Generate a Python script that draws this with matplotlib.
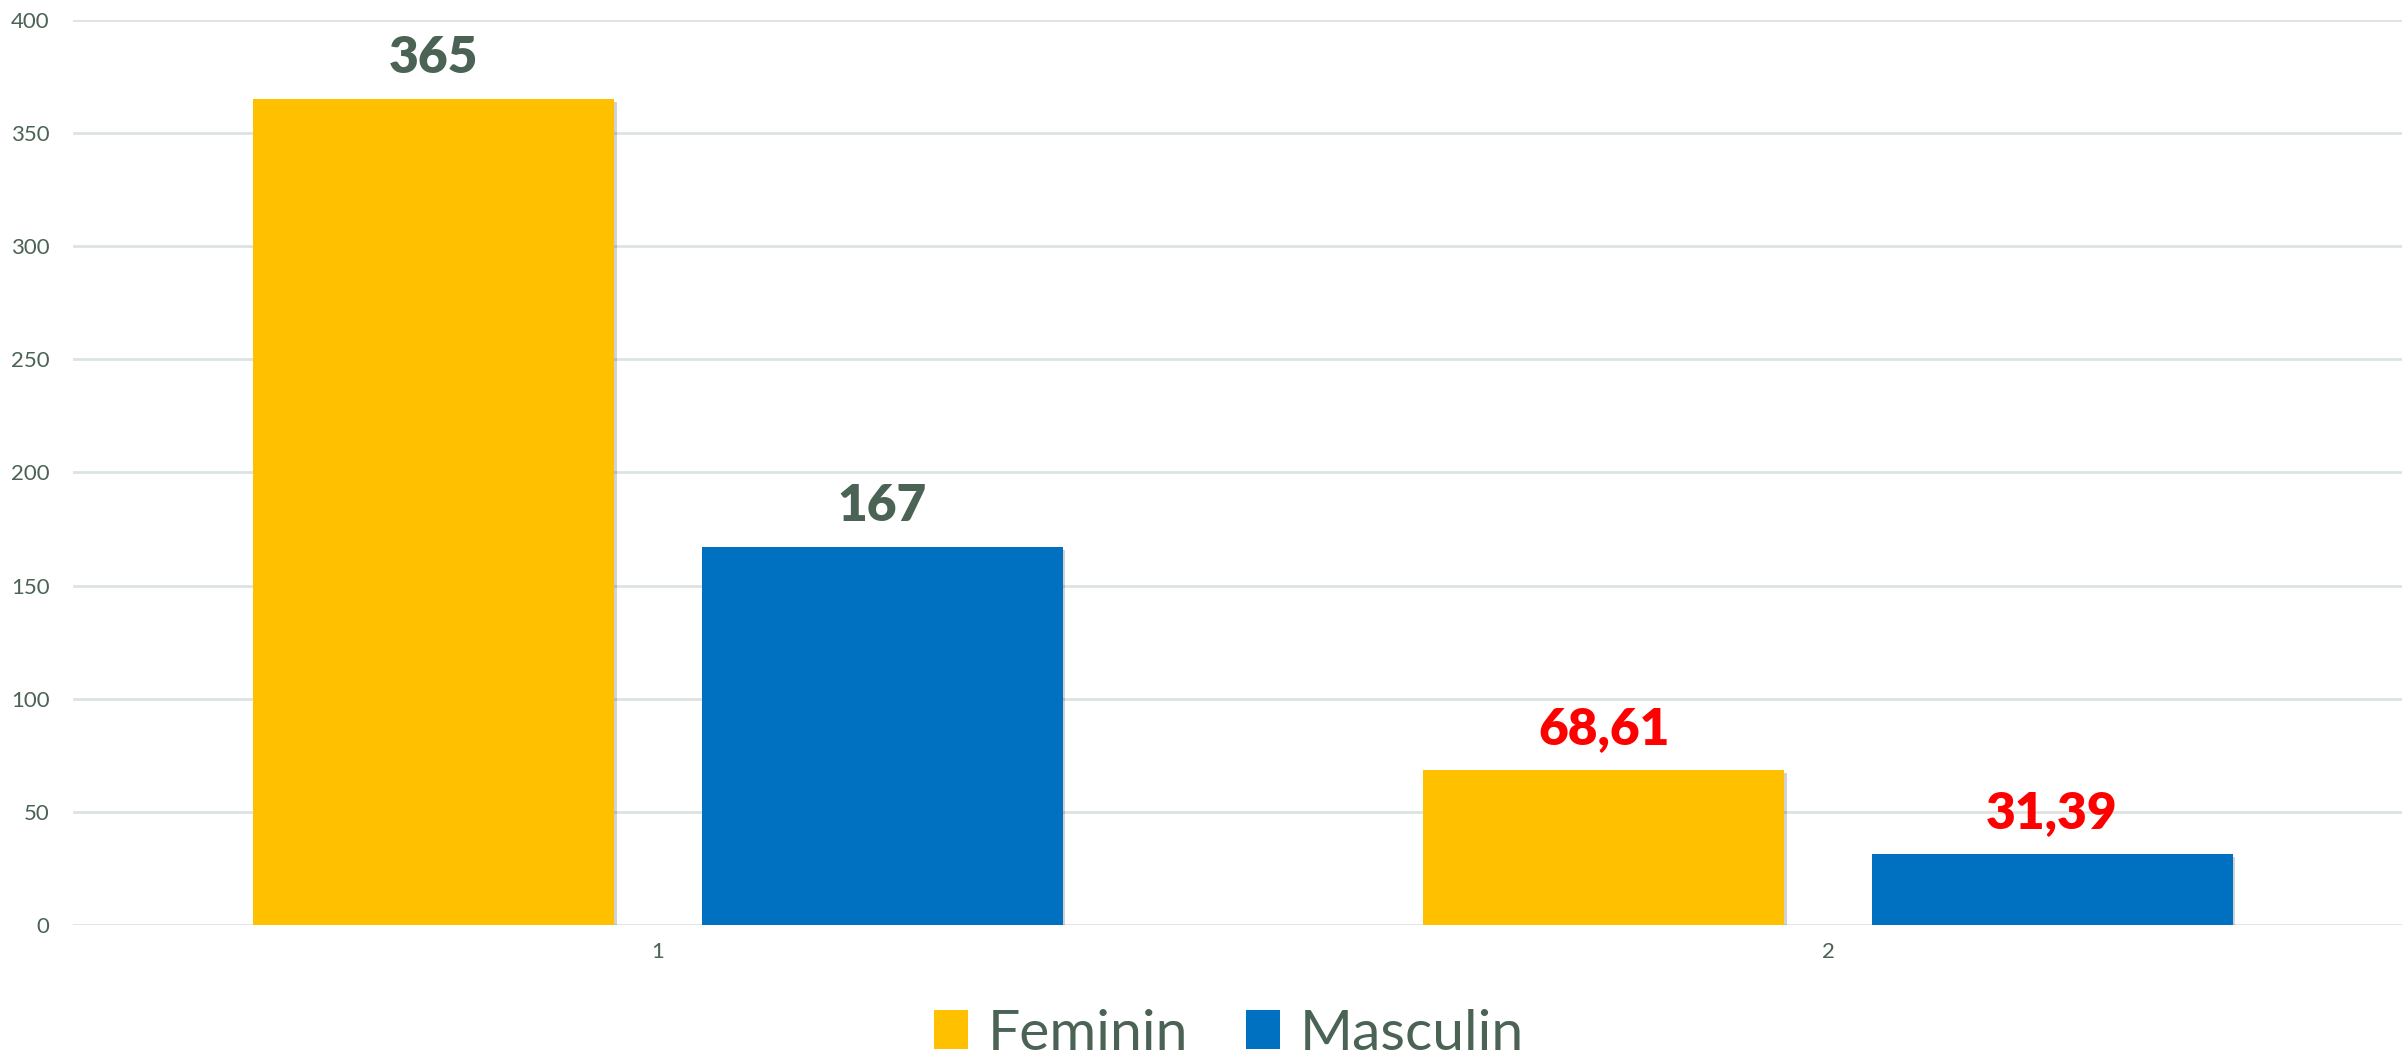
import matplotlib
matplotlib.use("Agg")
import matplotlib.pyplot as plt
import matplotlib.patheffects as pe
import numpy as np

categories = ["1", "2"]
feminin = [365, 68.61]
masculin = [167, 31.39]
feminin_labels = ["365", "68,61"]
masculin_labels = ["167", "31,39"]
label_colors = ["#4a6354", "#ff0000"]
yticks = [0, 50, 100, 150, 200, 250, 300, 350, 400]

plt.rcParams['font.family'] = ['Lato', 'DejaVu Sans']

W, H = 2402, 1057
fig = plt.figure(figsize=(W / 100, H / 100), dpi=100)
ax_left, ax_right = 73, 2402
ax_bottom, ax_top = 925, 20
ax = fig.add_axes([ax_left / W, 1 - ax_bottom / H, (ax_right - ax_left) / W, (ax_bottom - ax_top) / H])

pitch = 1170.0
x = np.arange(len(categories))
bw = 0.3085
off = 0.1915
c_f = "#ffc000"
c_m = "#0070c0"
shadow = [pe.SimplePatchShadow(offset=(2, -2), shadow_rgbFace="#000000", alpha=0.18), pe.Normal()]

bf = ax.bar(x - off, feminin, bw, color=c_f, label="Feminin", zorder=3)
bm = ax.bar(x + off, masculin, bw, color=c_m, label="Masculin", zorder=3)
for b in list(bf) + list(bm):
    b.set_path_effects(shadow)

for i in range(len(categories)):
    ax.annotate(feminin_labels[i], (x[i] - off, feminin[i]), xytext=(0, 13), textcoords="offset points",
                ha="center", va="bottom", fontsize=37, fontweight="heavy", color=label_colors[i])
    ax.annotate(masculin_labels[i], (x[i] + off, masculin[i]), xytext=(0, 13), textcoords="offset points",
                ha="center", va="bottom", fontsize=37, fontweight="heavy", color=label_colors[i])

ax.set_xlim(-0.5, -0.5 + (ax_right - ax_left) / pitch)
ax.set_ylim(0, 400)
ax.set_yticks(yticks)
ax.set_xticks(x)
ax.set_xticklabels(categories)
ax.yaxis.grid(True, color="#dde3e1", linewidth=2, zorder=0)
ax.set_axisbelow(True)
for s in ax.spines.values():
    s.set_visible(False)
ax.tick_params(axis="both", length=0, labelsize=16, labelcolor="#4a6354")
ax.tick_params(axis="y", pad=17)
ax.tick_params(axis="x", pad=12)

leg = fig.legend(handles=[bf, bm], labels=["Feminin", "Masculin"], loc="center",
                 bbox_to_anchor=(1229 / W, 1 - 1034 / H), ncol=2, frameon=False,
                 fontsize=41, handlelength=0.6, handleheight=0.65, handletextpad=0.35,
                 columnspacing=1.0)
for t in leg.get_texts():
    t.set_color("#4a6354")
for h in leg.legend_handles:
    h.set_path_effects([])

fig.savefig("out.png", dpi=100, facecolor="white")
